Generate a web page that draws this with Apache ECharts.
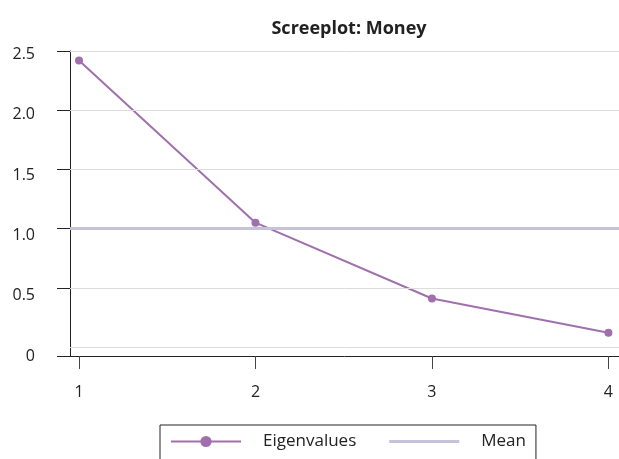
<!DOCTYPE html>
<html><head><meta charset="utf-8">
<script src="https://cdn.jsdelivr.net/npm/echarts@6/dist/echarts.min.js"></script>
<style>html,body{margin:0;padding:0;background:#fff}#c{width:619px;height:459px}</style>
</head><body><div id="c"></div>
<script>
const components = [1, 2, 3, 4];
const eigenvalues = [2.42, 1.05, 0.41, 0.12];
const meanValue = 1.0;
const yTicks = [0, 0.5, 1, 1.5, 2, 2.5];
const title = 'Screeplot: Money';

const FONT = '"Open Sans", "Noto Sans", sans-serif';
const PURPLE = '#a070ac';
const MEANC = '#c6c2d9';
const Y_MIN = -0.076, Y_MAX = 2.5;
const L_MIN = 0.0, L_MAX = 2.53;

const chart = echarts.init(document.getElementById('c'), null, {renderer: 'canvas'});
chart.setOption({
  animation: false,
  title: {text: title, left: 344, textAlign: 'center', top: 15,
    textStyle: {fontFamily: FONT, fontWeight: 'bold', fontSize: 18, color: '#222'}},
  grid: {left: 70, right: 0, top: 51, bottom: 103},
  legend: {
    left: 160, top: 425, width: 376,
    borderColor: '#222', borderWidth: 1,
    padding: [8, 10, 30, 10],
    itemWidth: 70, itemHeight: 14, itemGap: 33,
    textStyle: {fontFamily: FONT, fontSize: 17, color: '#222', padding: [0, 0, 0, 17]},
    data: [{name: 'Eigenvalues'}, {name: 'Mean', icon: 'path://M0,6 L70,6 L70,9 L0,9 Z'}]
  },
  xAxis: {
    type: 'value', min: 0.949, max: 4.06,
    axisLine: {show: true, onZero: false, lineStyle: {color: '#222', width: 1}},
    axisTick: {show: true, length: 13, customValues: components, lineStyle: {color: '#444'}},
    axisLabel: {customValues: components, margin: 28, fontFamily: FONT, fontSize: 16, color: '#222'},
    splitLine: {show: false}
  },
  yAxis: [{
    type: 'value', min: Y_MIN, max: Y_MAX,
    axisLine: {show: true, onZero: false, lineStyle: {color: '#222', width: 1}},
    axisTick: {show: true, length: 13, customValues: [Y_MIN].concat(yTicks.slice(1)), lineStyle: {color: '#222'}},
    axisLabel: {show: false},
    splitLine: {show: false}
  }, {
    type: 'value', min: L_MIN, max: L_MAX, position: 'left',
    axisLine: {show: false}, axisTick: {show: false}, splitLine: {show: false},
    axisLabel: {customValues: yTicks, margin: 35, showMinLabel: true,
      fontFamily: FONT, fontSize: 16, color: '#222',
      formatter: v => (v < 0.1 ? '0' : v.toFixed(1))}
  }],
  series: [{
    name: 'grid', type: 'line', data: [], silent: true, yAxisIndex: 0,
    markLine: {silent: true, symbol: 'none', label: {show: false},
      lineStyle: {color: '#dcdcdc', width: 1, type: 'solid'},
      data: yTicks.map(v => ({yAxis: v}))}
  }, {
    name: 'Mean', type: 'line', data: [], yAxisIndex: 0, color: MEANC,
    lineStyle: {color: MEANC, width: 3},
    markLine: {silent: true, symbol: 'none', label: {show: false},
      lineStyle: {color: MEANC, width: 3, type: 'solid'},
      data: [{yAxis: meanValue}]}
  }, {
    name: 'Eigenvalues', type: 'line', yAxisIndex: 0, color: PURPLE,
    data: components.map((c, i) => [c, eigenvalues[i]]),
    symbol: 'circle', symbolSize: 8,
    lineStyle: {color: PURPLE, width: 2},
    itemStyle: {color: PURPLE}
  }]
});
</script></body></html>
